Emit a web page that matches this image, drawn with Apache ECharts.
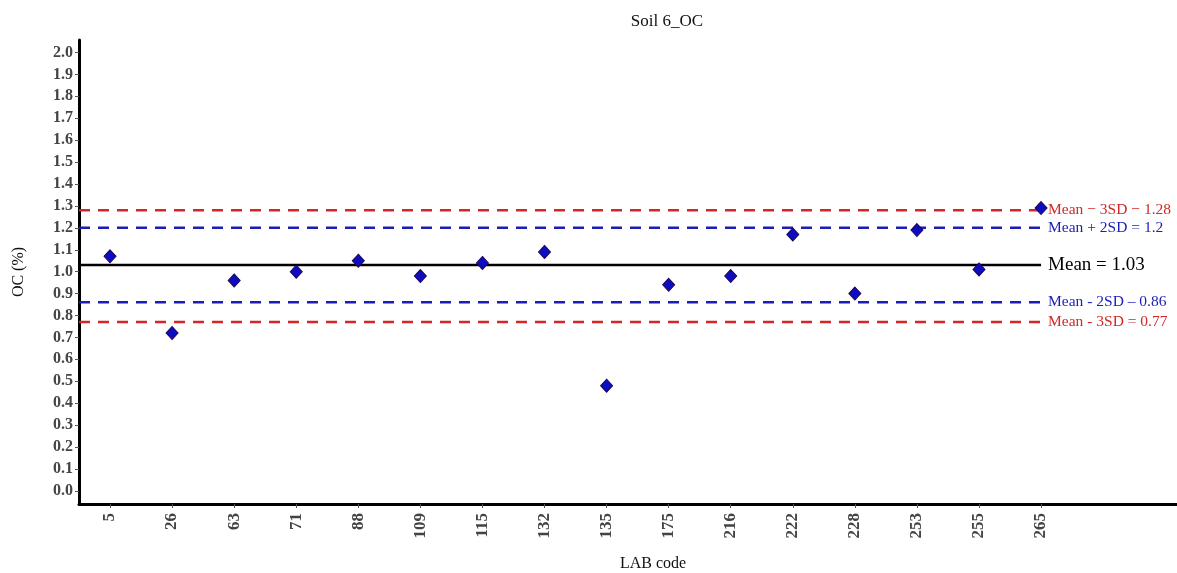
<!DOCTYPE html>
<html><head><meta charset="utf-8">
<script src="https://cdn.jsdelivr.net/npm/echarts@6/dist/echarts.min.js"></script>
<style>html,body{margin:0;padding:0;background:#fff}#c{width:1177px;height:573px}</style>
</head><body><div id="c"></div>
<script>
const labCodes = ['5','26','63','71','88','109','115','132','135','175','216','222','228','253','255','265'];
const ocValues = [1.07,0.72,0.96,1.00,1.05,0.98,1.04,1.09,0.48,0.94,0.98,1.17,0.90,1.19,1.01,1.29];
const yTicks = [0,0.1,0.2,0.3,0.4,0.5,0.6,0.7,0.8,0.9,1.0,1.1,1.2,1.3,1.4,1.5,1.6,1.7,1.8,1.9,2.0];
const refNames = ['Mean − 3SD − 1.28','Mean + 2SD = 1.2','Mean = 1.03','Mean - 2SD – 0.86','Mean - 3SD = 0.77'];
const refValues = [1.28,1.20,1.03,0.86,0.77];
const refColors = ['#d32626','#1c1cb8','#000000','#1c1cb8','#d32626'];

const xIdx = labCodes.map((_, i) => i + 1);
const font = '"Liberation Serif","DejaVu Serif",serif';

const refSeries = refValues.map((v, k) => ({
  type: 'line',
  data: [[0.5, v], [16, v]],
  symbol: 'none',
  silent: true,
  z: 2,
  lineStyle: {
    color: refColors[k],
    width: 2.5,
    type: k === 2 ? 'solid' : [11, 8]
  },
  endLabel: {
    show: true,
    formatter: refNames[k],
    color: refColors[k],
    fontFamily: font,
    fontSize: k === 2 ? 19 : 15.5,
    distance: 7
  }
}));

const chart = echarts.init(document.getElementById('c'));
chart.setOption({
  animation: false,
  title: {
    text: 'Soil 6_OC',
    left: 662, top: 8, textAlign: 'center',
    textStyle: { fontFamily: font, fontSize: 17, fontWeight: 'normal', color: '#111' }
  },
  grid: { left: 79, right: 0, top: 40, bottom: 69, outerBoundsMode: 'none', containLabel: false },
  xAxis: {
    type: 'value',
    min: 0.5, max: 18.19,
    name: 'LAB code',
    nameLocation: 'middle',
    nameGap: 52,
    nameTextStyle: { fontFamily: font, fontSize: 16, color: '#111', padding: [0, 0, 0, 50] },
    axisLine: { onZero: false, lineStyle: { color: '#000', width: 3 } },
    axisTick: { show: true, customValues: xIdx, length: 4, lineStyle: { color: '#555' } },
    axisLabel: {
      customValues: xIdx,
      rotate: 90,
      formatter: v => labCodes[Math.round(v) - 1] || '',
      fontFamily: font, fontSize: 17, fontWeight: 'bold', color: '#444', margin: 9
    },
    splitLine: { show: false }
  },
  yAxis: {
    type: 'value',
    min: -0.06, max: 2.057,
    name: 'OC (%)',
    nameLocation: 'middle',
    nameGap: 52,
    nameTextStyle: { fontFamily: font, fontSize: 16, color: '#111' },
    axisLine: { show: true, onZero: false, lineStyle: { color: '#000', width: 3 } },
    axisTick: { show: true, customValues: yTicks, length: 4, lineStyle: { color: '#555' } },
    axisLabel: {
      customValues: yTicks,
      formatter: v => v.toFixed(1),
      fontFamily: font, fontSize: 16, fontWeight: 'bold', color: '#444', margin: 6
    },
    splitLine: { show: false }
  },
  series: refSeries.concat([{
    type: 'scatter',
    data: ocValues.map((v, i) => [xIdx[i], v]),
    symbol: 'diamond',
    symbolSize: [12, 13],
    z: 5,
    itemStyle: { color: '#0c0cc4', borderColor: '#200850', borderWidth: 1, opacity: 1 }
  }])
});
</script></body></html>
